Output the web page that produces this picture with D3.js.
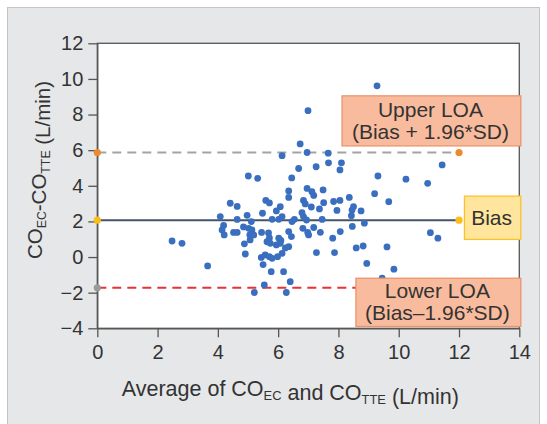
<!DOCTYPE html>
<html>
<head>
<meta charset="utf-8">
<script src="https://cdn.jsdelivr.net/npm/d3@7"></script>
<style>
  body { margin: 0; background: #fff; }
  svg text { font-family: "Liberation Sans", Arial, Helvetica, sans-serif; fill: #333; }
</style>
</head>
<body>
<div id="chart"></div>
<script>
// averages (x) and differences (y) in L/min
const avgCO = [9.28, 6.99, 6.73, 6.13, 6.96, 7.66, 7.67, 8.10, 8.05, 6.68, 7.26, 5.01, 5.32, 6.45, 9.31,
  11.44, 10.24, 10.96, 6.35, 6.35, 6.96, 7.12, 7.18, 7.49, 9.20, 8.36, 9.67, 5.59, 5.71, 4.41, 4.64,
  6.07, 5.94, 6.84, 6.90, 7.10, 7.37, 7.51, 7.84, 8.05, 7.95, 8.50, 8.45, 8.75, 8.43, 4.08, 4.97,
  5.48, 4.64, 5.11, 5.80, 6.02, 6.13, 6.46, 6.54, 6.84, 6.94, 7.46, 4.19, 4.14, 4.21, 4.52, 4.64,
  4.85, 5.02, 5.13, 5.06, 5.19, 5.07, 5.45, 5.68, 5.71, 6.02, 6.09, 6.35, 6.44, 6.82, 6.98, 7.18,
  7.40, 7.01, 7.81, 8.06, 8.46, 8.86, 4.88, 5.63, 5.74, 5.94, 6.07, 6.24, 6.35, 4.91, 5.44, 5.57,
  5.71, 5.80, 5.98, 6.13, 5.50, 5.77, 6.18, 6.40, 5.54, 5.21, 6.27, 3.66, 7.27, 7.87, 8.59, 8.82,
  8.94, 9.61, 9.84, 9.45, 11.05, 11.30, 2.48, 2.81, 6.79]
const diffCO = [9.61, 8.22, 6.35, 5.69, 5.87, 5.83, 5.29, 5.29, 4.89, 4.97, 5.07, 4.55, 4.42, 4.44, 4.55,
  5.17, 4.37, 4.14, 3.71, 3.35, 3.85, 3.67, 3.46, 3.77, 3.56, 3.35, 3.11, 3.18, 3.04, 3.02, 2.84,
  2.83, 2.59, 3.18, 2.98, 2.81, 2.70, 3.05, 3.12, 3.18, 2.62, 2.83, 2.64, 2.59, 2.32, 2.27, 2.34,
  2.46, 2.11, 1.99, 2.12, 2.12, 2.27, 1.99, 2.12, 2.27, 2.08, 2.11, 1.77, 1.52, 1.24, 1.38, 1.38,
  1.69, 1.61, 1.52, 1.24, 1.24, 0.96, 1.38, 1.35, 1.07, 1.06, 0.93, 1.43, 1.15, 1.61, 1.38, 1.66,
  1.39, 1.24, 1.06, 1.43, 1.72, 1.90, 0.74, 0.86, 0.77, 0.68, 0.77, 0.51, 0.58, 0.17, -0.02, 0.12,
  0.02, -0.07, 0.02, 0.21, -0.42, -0.82, -0.82, -1.38, -1.57, -1.99, -1.99, -0.50, 0.25, 0.25, 0.51, 0.62,
  -0.36, 0.57, -0.68, -1.19, 1.37, 1.06, 0.90, 0.77, 2.49]

const bias = 2.07
const upperLOA = 5.87
const lowerLOA = -1.73
const lineEnd = 12

const xTicks = [0, 2, 4, 6, 8, 10, 12, 14]
const yTicks = [-4, -2, 0, 2, 4, 6, 8, 10, 12]

const width = 547
const height = 424
const margin = {top: 43.3, right: 27.7, bottom: 95.7, left: 97.3}
const innerW = width - margin.left - margin.right
const innerH = height - margin.top - margin.bottom

const x = d3.scaleLinear().domain([0, 14]).range([0, innerW])
const y = d3.scaleLinear().domain([-4, 12]).range([innerH, 0])

const svg = d3.select('#chart').append('svg')
    .attr('width', width)
    .attr('height', height)

// grey panel behind everything
svg.append('rect')
    .attr('x', 7.5).attr('y', 7.5)
    .attr('width', 532).attr('height', 430)
    .attr('fill', '#e6e7e9')
    .attr('stroke', '#c4c4c4')

const g = svg.append('g')
    .attr('transform', 'translate(' + margin.left + ',' + margin.top + ')')

g.append('rect')
    .attr('width', innerW).attr('height', innerH)
    .attr('fill', '#fff')
    .attr('stroke', '#555')
    .attr('stroke-width', 1.3)

// axes
const xAxis = d3.axisBottom(x).tickValues(xTicks).tickSize(9).tickSizeOuter(0).tickPadding(8)
const yAxis = d3.axisLeft(y).tickValues(yTicks).tickSize(9).tickSizeOuter(0).tickPadding(5)

g.append('g')
    .attr('class', 'x axis')
    .attr('transform', 'translate(0,' + innerH + ')')
    .call(xAxis)
g.append('g')
    .attr('class', 'y axis')
    .call(yAxis)

g.selectAll('.axis path, .axis line')
    .attr('stroke', '#555')
    .attr('stroke-width', 1.3)
g.selectAll('.axis text')
    .attr('font-size', 20)
    .attr('fill', '#333')

// reference lines
const refLines = [
  {v: upperLOA, stroke: '#a3a3a3', dash: '9,6', dotL: '#ee8a2c', dotR: '#ee8a2c'},
  {v: bias, stroke: '#44546a', dash: null, dotL: '#fcbc1a', dotR: '#fcbc1a'},
  {v: lowerLOA, stroke: '#f03030', dash: '9,6', dotL: '#9a9a9a', dotR: '#f03030'}
]

refLines.forEach(function (d) {
  g.append('line')
      .attr('x1', x(0)).attr('x2', x(lineEnd))
      .attr('y1', y(d.v)).attr('y2', y(d.v))
      .attr('stroke', d.stroke)
      .attr('stroke-width', 2)
      .attr('stroke-dasharray', d.dash)
})

// points
g.append('g').attr('class', 'points')
  .selectAll('circle')
  .data(avgCO.map((v, i) => [v, diffCO[i]]))
  .enter().append('circle')
    .attr('cx', d => x(d[0]))
    .attr('cy', d => y(d[1]))
    .attr('r', 3.4)
    .attr('fill', '#3a6ebf')

refLines.forEach(function (d) {
  g.append('circle').attr('cx', x(0)).attr('cy', y(d.v)).attr('r', 3.6).attr('fill', d.dotL)
  g.append('circle').attr('cx', x(lineEnd)).attr('cy', y(d.v)).attr('r', 3.6).attr('fill', d.dotR)
})

// callout boxes
const boxes = [
  {x0: 8.12, x1: 14.05, yTop: 9.05, yBot: 6.24, fill: '#f9bb9d', stroke: '#e9956c',
    lines: ['Upper LOA', '(Bias + 1.96*SD)']},
  {x0: 12.18, x1: 14.05, yTop: 3.42, yBot: 0.99, fill: '#ffe69c', stroke: '#fcc22c',
    lines: ['Bias']},
  {x0: 8.58, x1: 14.05, yTop: -1.19, yBot: -3.9, fill: '#f9bb9d', stroke: '#e9956c',
    lines: ['Lower LOA', '(Bias\u20131.96*SD)']}
]

boxes.forEach(function (b) {
  const bx = x(b.x0)
  const by = y(b.yTop)
  const bw = x(b.x1) - x(b.x0)
  const bh = y(b.yBot) - y(b.yTop)
  g.append('rect')
      .attr('x', bx).attr('y', by)
      .attr('width', bw).attr('height', bh)
      .attr('fill', b.fill)
      .attr('stroke', b.stroke)
      .attr('stroke-width', 1.3)
  const lh = 22
  const start = by + bh / 2 - (b.lines.length - 1) * lh / 2 + 7
  b.lines.forEach(function (t, i) {
    g.append('text')
        .attr('x', bx + bw / 2 - 1)
        .attr('y', start + i * lh)
        .attr('text-anchor', 'middle')
        .attr('font-size', 21)
        .attr('fill', '#2b2b2b')
        .text(t)
  })
})

// axis titles with subscripts
function subTitle (sel, size, parts) {
  parts.forEach(function (p) {
    if (p.sub) {
      sel.append('tspan').attr('font-size', size * 0.6).attr('dy', 4).text(p.t)
      sel.append('tspan').attr('font-size', size).attr('dy', -4).text('')
    } else {
      sel.append('tspan').text(p.t)
    }
  })
}

const xTitle = svg.append('text')
    .attr('x', margin.left + innerW / 2 - 18)
    .attr('y', 396)
    .attr('text-anchor', 'middle')
    .attr('font-size', 21.5)
subTitle(xTitle, 21.5, [{t: 'Average of CO'}, {t: 'EC', sub: true}, {t: ' and CO'}, {t: 'TTE', sub: true}, {t: ' (L/min)'}])

const yTitle = svg.append('text')
    .attr('transform', 'translate(42,170)rotate(-90)')
    .attr('text-anchor', 'middle')
    .attr('font-size', 20.5)
subTitle(yTitle, 20.5, [{t: 'CO'}, {t: 'EC', sub: true}, {t: '-CO'}, {t: 'TTE', sub: true}, {t: ' (L/min)'}])
</script>
</body>
</html>
